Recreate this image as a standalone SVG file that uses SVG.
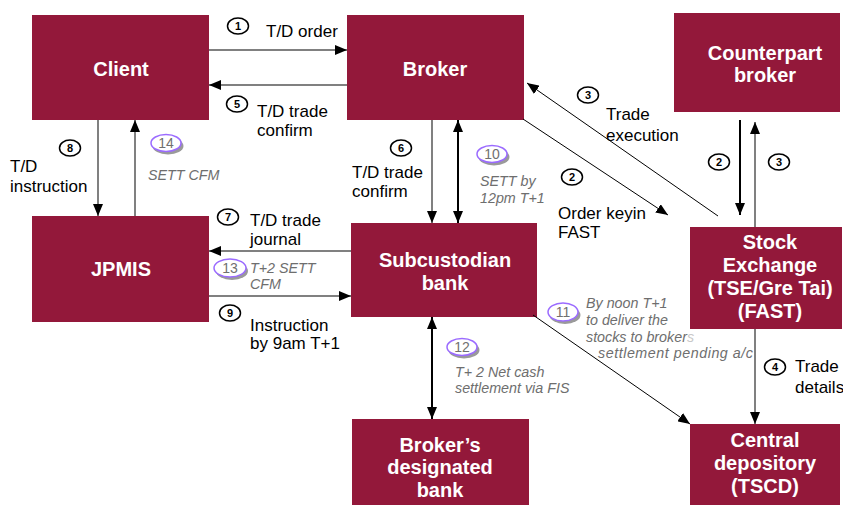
<svg xmlns="http://www.w3.org/2000/svg" width="843" height="521" viewBox="0 0 843 521">
<defs>
<marker id="ah" markerWidth="12" markerHeight="10" refX="12" refY="5" orient="auto-start-reverse" markerUnits="userSpaceOnUse"><path d="M0,0 L12,5 L0,10 z" fill="#000"/></marker>
</defs>
<style>
.box{fill:#93183a}
.bt{font-family:"Liberation Sans",Arial,sans-serif;font-size:20px;font-weight:bold;fill:#fff;text-anchor:middle}
.lbl{font-family:"Liberation Sans",Arial,sans-serif;font-size:17px;fill:#000}
.it{font-family:"Liberation Sans",Arial,sans-serif;font-size:14.3px;font-style:italic;fill:#6e6e6e}
.g{stroke:#808080;stroke-width:2;fill:none}
.k{stroke:#000;stroke-width:2;fill:none}
.d{stroke:#000;stroke-width:1;fill:none}
.num{fill:#fff;stroke:#000;stroke-width:1.5}
.nt{font-family:"Liberation Sans",Arial,sans-serif;font-size:11px;font-weight:bold;fill:#000;text-anchor:middle}
.ov{fill:#fff;stroke:#9b6bff;stroke-width:1.5}
.sh{fill:#9a9a9a}
.ot{font-family:"Liberation Sans",Arial,sans-serif;font-size:14px;fill:#707070;text-anchor:middle}
</style>
<g id="client"><rect class="box" x="32" y="15" width="177" height="105"/><text class="bt" x="121" y="76">Client</text></g>
<g id="broker"><rect class="box" x="347" y="15" width="177" height="105"/><text class="bt" x="435" y="76">Broker</text></g>
<g id="counterpart"><rect class="box" x="674" y="13" width="166" height="99"/><text class="bt" x="765" y="60">Counterpart</text><text class="bt" x="765" y="82">broker</text></g>
<g id="jpmis"><rect class="box" x="32" y="216" width="177" height="106"/><text class="bt" x="121" y="276">JPMIS</text></g>
<g id="subcustodian"><rect class="box" x="351" y="223" width="186" height="94"/><text class="bt" x="445" y="267">Subcustodian</text><text class="bt" x="445" y="290">bank</text></g>
<g id="exchange"><rect class="box" x="690" y="227" width="152" height="102"/><text class="bt" x="770" y="249">Stock</text><text class="bt" x="770" y="272">Exchange</text><text class="bt" x="770" y="295">(TSE/Gre Tai)</text><text class="bt" x="770" y="318">(FAST)</text></g>
<g id="designated"><rect class="box" x="352" y="419" width="177" height="86"/><text class="bt" x="440" y="452">Broker’s</text><text class="bt" x="440" y="474">designated</text><text class="bt" x="440" y="497">bank</text></g>
<g id="depository"><rect class="box" x="690" y="424" width="150" height="81"/><text class="bt" x="765" y="447">Central</text><text class="bt" x="765" y="470">depository</text><text class="bt" x="765" y="493">(TSCD)</text></g>
<g id="connectors">
<line class="g" x1="209" y1="50" x2="347" y2="50" marker-end="url(#ah)"/>
<line class="g" x1="347" y1="85" x2="209" y2="85" marker-end="url(#ah)"/>
<line class="g" x1="98" y1="120" x2="98" y2="216" marker-end="url(#ah)"/>
<line class="g" x1="135" y1="216" x2="135" y2="120" marker-end="url(#ah)"/>
<line class="g" x1="432" y1="120" x2="432" y2="223" marker-end="url(#ah)"/>
<line class="k" x1="458" y1="120" x2="458" y2="223" marker-start="url(#ah)" marker-end="url(#ah)"/>
<line class="d" x1="523" y1="119" x2="668" y2="215" marker-end="url(#ah)"/>
<line class="d" x1="718" y1="216" x2="527" y2="83" marker-end="url(#ah)"/>
<line class="k" x1="740" y1="120" x2="740" y2="215" marker-end="url(#ah)"/>
<line class="g" x1="755" y1="227" x2="755" y2="122" marker-end="url(#ah)"/>
<line class="g" x1="755" y1="329" x2="755" y2="424" marker-end="url(#ah)"/>
<line class="g" x1="351" y1="251" x2="209" y2="251" marker-end="url(#ah)"/>
<line class="g" x1="209" y1="296" x2="351" y2="296" marker-end="url(#ah)"/>
<line class="k" x1="432" y1="317" x2="432" y2="419" marker-start="url(#ah)" marker-end="url(#ah)"/>
<line class="d" x1="533" y1="315" x2="690" y2="424" marker-end="url(#ah)"/>
</g>
<g id="labels">
<ellipse class="num" cx="238" cy="26" rx="10.5" ry="8"/><text class="nt" x="238" y="30">1</text>
<text class="lbl" x="266" y="37">T/D order</text>
<ellipse class="num" cx="237" cy="104" rx="10.5" ry="8"/><text class="nt" x="237" y="108">5</text>
<text class="lbl" x="257" y="117">T/D trade</text><text class="lbl" x="257" y="136">confirm</text>
<ellipse class="num" cx="70" cy="148" rx="10.5" ry="8"/><text class="nt" x="70" y="152">8</text>
<text class="lbl" x="10" y="172">T/D</text><text class="lbl" x="10" y="192">instruction</text>
<ellipse class="sh" cx="168" cy="146" rx="15.5" ry="8.5"/><ellipse class="ov" cx="166" cy="143" rx="15" ry="8.5"/><text class="ot" x="166" y="148">14</text>
<text class="it" x="148" y="180">SETT CFM</text>
<ellipse class="num" cx="401" cy="148" rx="10.5" ry="8"/><text class="nt" x="401" y="152">6</text>
<text class="lbl" x="352" y="178">T/D trade</text><text class="lbl" x="352" y="197">confirm</text>
<ellipse class="sh" cx="494" cy="157" rx="15.5" ry="8.5"/><ellipse class="ov" cx="492" cy="154" rx="15" ry="8.5"/><text class="ot" x="492" y="159">10</text>
<text class="it" x="480" y="186">SETT by</text><text class="it" x="480" y="203">12pm T+1</text>
<ellipse class="num" cx="588" cy="95" rx="10.5" ry="8"/><text class="nt" x="588" y="99">3</text>
<text class="lbl" x="606" y="120">Trade</text><text class="lbl" x="606" y="141">execution</text>
<ellipse class="num" cx="572" cy="177" rx="10.5" ry="8"/><text class="nt" x="572" y="181">2</text>
<text class="lbl" x="558" y="219">Order keyin</text><text class="lbl" x="558" y="238">FAST</text>
<ellipse class="num" cx="719" cy="162" rx="10.5" ry="8"/><text class="nt" x="719" y="166">2</text>
<ellipse class="num" cx="779" cy="162" rx="10.5" ry="8"/><text class="nt" x="779" y="166">3</text>
<ellipse class="num" cx="775" cy="367" rx="10.5" ry="8"/><text class="nt" x="775" y="371">4</text>
<text class="lbl" x="795" y="372">Trade</text><text class="lbl" x="795" y="393">details</text>
<ellipse class="num" cx="228" cy="217" rx="10.5" ry="8"/><text class="nt" x="228" y="221">7</text>
<text class="lbl" x="250" y="226">T/D trade</text><text class="lbl" x="250" y="245">journal</text>
<ellipse class="sh" cx="232" cy="271" rx="16" ry="9"/><ellipse class="ov" cx="230" cy="268" rx="16" ry="9"/><text class="ot" x="230" y="273">13</text>
<text class="it" x="250" y="273">T+2 SETT</text><text class="it" x="250" y="289">CFM</text>
<ellipse class="num" cx="230" cy="313" rx="10.5" ry="8"/><text class="nt" x="230" y="317">9</text>
<text class="lbl" x="250" y="331">Instruction</text><text class="lbl" x="250" y="349">by 9am T+1</text>
<ellipse class="sh" cx="464" cy="350" rx="15.5" ry="8.5"/><ellipse class="ov" cx="462" cy="347" rx="15" ry="8.5"/><text class="ot" x="462" y="352">12</text>
<text class="it" x="455" y="377">T+ 2 Net cash</text><text class="it" x="455" y="393">settlement via FIS</text>
<ellipse class="sh" cx="565" cy="315" rx="15.5" ry="9"/><ellipse class="ov" cx="563" cy="312" rx="15" ry="9"/><text class="ot" x="563" y="317">11</text>
<text class="it" x="586" y="308">By noon T+1</text><text class="it" x="586" y="325">to deliver the</text><text class="it" x="586" y="342">stocks to broker<tspan fill="#c8c8c8">s</tspan></text><text class="it" x="598" y="358" textLength="155" lengthAdjust="spacing">settlement pending a/c</text>
</g>
</svg>
